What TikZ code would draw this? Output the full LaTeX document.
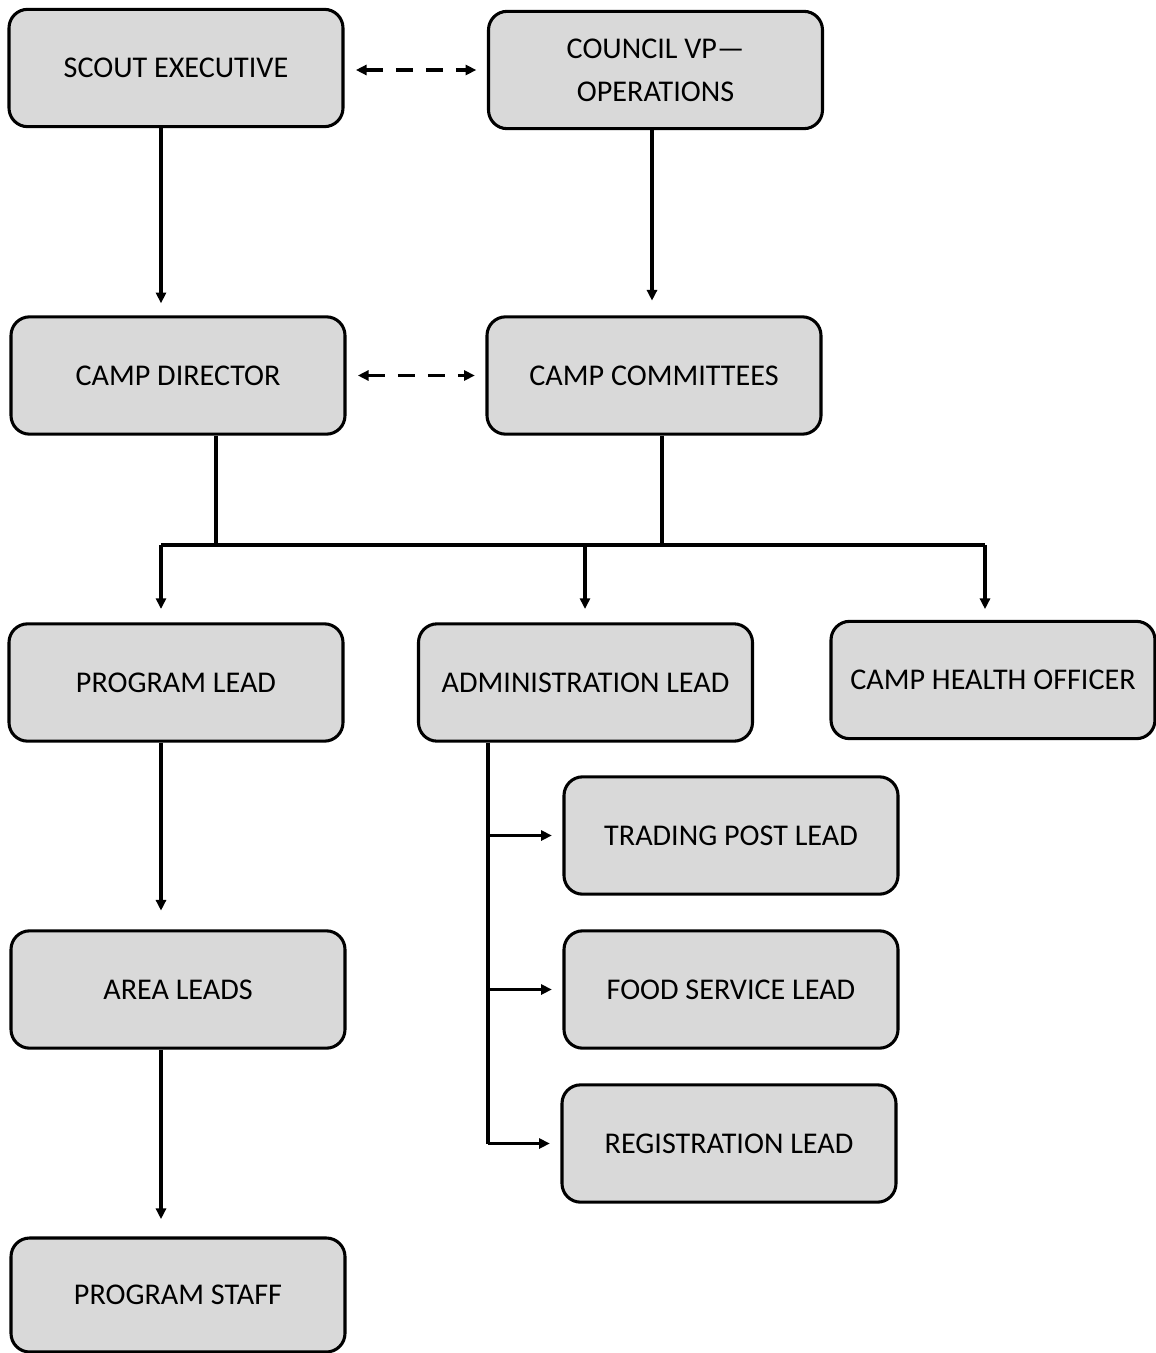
\documentclass[tikz,border=0pt]{standalone}
\usepackage{fontspec}
\setmainfont{Carlito}
\usetikzlibrary{arrows.meta}
\definecolor{boxfill}{HTML}{D9D9D9}
\definecolor{ink}{HTML}{000000}
\begin{document}
\begin{tikzpicture}[x=0.75pt,y=-0.75pt,
  box/.style={draw=ink, line width=2.3pt, fill=boxfill, rounded corners=14pt,
    minimum width=250.5pt, minimum height=88pt, inner sep=0pt, align=center,
    font=\fontsize{22.6}{32}\selectfont, text=ink},
  conn/.style={draw=ink, line width=2.4pt},
  arr/.style={conn, -{Triangle[length=8pt,width=7.5pt]}},
  darr/.style={conn, {Triangle[length=8pt,width=7.5pt]}-{Triangle[length=8pt,width=7.5pt]},
    dash pattern=on 13pt off 9.5pt, shorten <=8.5pt, shorten >=8pt}
]
\useasboundingbox (0,0) rectangle (1156,1353);
% nodes
\node[box] (se) at (176,68) {SCOUT EXECUTIVE};
\node[box] (vp) at (655.5,70) {COUNCIL VP\char"2014\\OPERATIONS};
\node[box] (cd) at (178,375.5) {CAMP DIRECTOR};
\node[box] (cc) at (654,375.5) {CAMP COMMITTEES};
\node[box] (pl) at (176,682.5) {PROGRAM LEAD};
\node[box] (al) at (585.5,682.5) {ADMINISTRATION LEAD};
\node[box, minimum width=243pt] (ch) at (993,680) {CAMP HEALTH OFFICER};
\node[box] (tp) at (731,835.5) {TRADING POST LEAD};
\node[box] (fs) at (731,989.5) {FOOD SERVICE LEAD};
\node[box] (rl) at (729,1143.5) {REGISTRATION LEAD};
\node[box] (ar) at (178,989.5) {AREA LEADS};
\node[box, minimum height=85.5pt] (ps) at (178,1295) {PROGRAM STAFF};
% helper coordinates
\coordinate (xl) at (161,0);
\coordinate (xvp) at (652,0);
\coordinate (xcd) at (216,0);
\coordinate (xcc) at (662,0);
\coordinate (xal) at (585,0);
\coordinate (xch) at (985,0);
\coordinate (xad) at (488,0);
\coordinate (busl) at (161,545);
\coordinate (busr) at (985,545);
\coordinate (bus) at (0,545);
% dashed links
\draw[darr] (se.east |- vp.west) -- (vp.west);
\draw[darr] (cd.east |- cc.west) -- (cc.west);
% top verticals
\draw[arr, shorten >=9pt] (se.south -| xl) -- (cd.north -| xl);
\draw[arr, shorten >=11pt] (vp.south -| xvp) -- (cc.north -| xvp);
% bus
\draw[conn] (cd.south -| xcd) -- (bus -| xcd);
\draw[conn] (cc.south -| xcc) -- (bus -| xcc);
\draw[conn] (busl) -- (busr);
\draw[arr, shorten >=10pt] (busl) -- (pl.north -| xl);
\draw[arr, shorten >=10pt] (bus -| xal) -- (al.north -| xal);
\draw[arr, shorten >=8pt] (busr) -- (ch.north -| xch);
% program chain
\draw[arr, shorten >=14pt] (pl.south -| xl) -- (ar.north -| xl);
\draw[arr, shorten >=13pt] (ar.south -| xl) -- (ps.north -| xl);
% administration branches
\draw[conn] (al.south -| xad) -- (rl.west -| xad);
\draw[arr, shorten >=8pt] (tp.west -| xad) -- (tp.west);
\draw[arr, shorten >=8pt] (fs.west -| xad) -- (fs.west);
\draw[arr, shorten >=8pt] (rl.west -| xad) -- (rl.west);
\end{tikzpicture}
\end{document}
